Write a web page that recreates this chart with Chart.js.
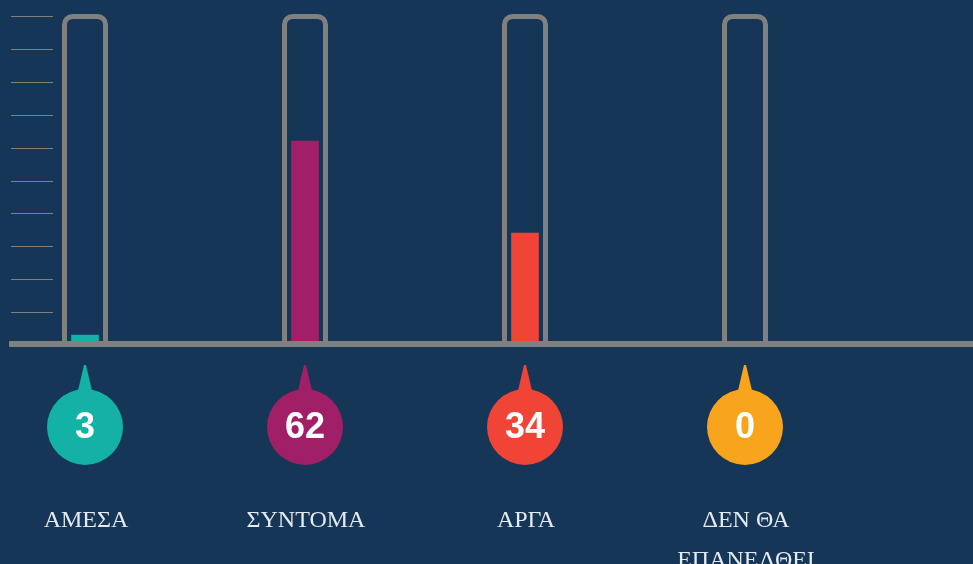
<!DOCTYPE html>
<html>
<head>
<meta charset="utf-8">
<script src="https://cdn.jsdelivr.net/npm/chart.js@4"></script>
<style>
  html, body { margin: 0; padding: 0; background: #163658; }
  #wrap { width: 973px; height: 564px; position: relative; }
</style>
</head>
<body>
<div id="wrap"><canvas id="chart"></canvas></div>
<script>
/* thermometer bars */

const categories = [["ΑΜΕΣΑ"], ["ΣΥΝΤΟΜΑ"], ["ΑΡΓΑ"], ["ΔΕΝ ΘΑ", "ΕΠΑΝΕΛΘΕΙ"]];
const values = [3, 62, 34, 0];
const barColors = ["#14b1a6", "#a11f66", "#f04437", "#f8a51d"];
const tickValues = [10, 20, 30, 40, 50, 60, 70, 80, 90, 100];

const BG = "#163658";
const GREY = "#808080";
const LABEL = "#e4eaf1";

const thermoPlugin = {
  id: "thermo",
  beforeDraw(chart) {
    const { ctx, width, height } = chart;
    ctx.save();
    ctx.fillStyle = BG;
    ctx.fillRect(0, 0, width, height);
    ctx.restore();
  },
  afterDatasetsDraw(chart) {
    const { ctx } = chart;
    const x = chart.scales.x, y = chart.scales.y;
    const base = y.getPixelForValue(0);
    const top = y.getPixelForValue(100);
    ctx.save();

    // tick marks on the left
    ctx.strokeStyle = GREY;
    ctx.lineWidth = 1;
    tickValues.forEach(v => {
      const py = Math.round(y.getPixelForValue(v)) + 0.5;
      ctx.beginPath();
      ctx.moveTo(11, py);
      ctx.lineTo(53, py);
      ctx.stroke();
    });

    // tubes
    ctx.lineWidth = 5;
    categories.forEach((_, i) => {
      const cx = x.getPixelForValue(i);
      const l = cx - 20.5, r = cx + 20.5, t = top + 0.5, rad = 8;
      ctx.beginPath();
      ctx.moveTo(l, base);
      ctx.lineTo(l, t + rad);
      ctx.arcTo(l, t, l + rad, t, rad);
      ctx.lineTo(r - rad, t);
      ctx.arcTo(r, t, r, t + rad, rad);
      ctx.lineTo(r, base);
      ctx.stroke();
    });

    // baseline
    ctx.fillStyle = GREY;
    ctx.fillRect(9, base - 4, chart.width - 9, 6);

    // bubbles and labels
    categories.forEach((lines, i) => {
      const cx = x.getPixelForValue(i);
      const cy = 427;
      ctx.fillStyle = barColors[i];
      ctx.beginPath();
      ctx.moveTo(cx - 1, 365);
      ctx.lineTo(cx + 1, 365);
      ctx.lineTo(cx + 8, 395);
      ctx.lineTo(cx - 8, 395);
      ctx.closePath();
      ctx.fill();
      ctx.beginPath();
      ctx.arc(cx, cy, 38, 0, Math.PI * 2);
      ctx.fill();

      ctx.fillStyle = "#ffffff";
      ctx.font = "bold 36px 'Liberation Sans', Arial, sans-serif";
      ctx.textAlign = "center";
      ctx.textBaseline = "middle";
      ctx.fillText(String(values[i]), cx, cy + 1);

      ctx.fillStyle = LABEL;
      ctx.font = "24px 'Liberation Serif', 'DejaVu Serif', serif";
      ctx.textBaseline = "alphabetic";
      lines.forEach((s, k) => ctx.fillText(s, cx + 1, 527 + k * 40));
    });

    ctx.restore();
  }
};

new Chart(document.getElementById("chart"), {
  type: "bar",
  data: {
    labels: categories,
    datasets: [{
      data: values,
      backgroundColor: barColors,
      borderWidth: 0,
      barThickness: 27,
      clip: false,
    }],
  },
  options: {
    responsive: true,
    maintainAspectRatio: false,
    animation: false,
    events: [],
    layout: { padding: { left: 85, right: 228, top: 16, bottom: 219 } },
    plugins: { legend: { display: false }, tooltip: { enabled: false } },
    scales: {
      x: { type: "category", offset: false, display: false },
      y: { min: 0, max: 100, display: false },
    },
  },
  plugins: [thermoPlugin],
});
</script>
</body>
</html>
